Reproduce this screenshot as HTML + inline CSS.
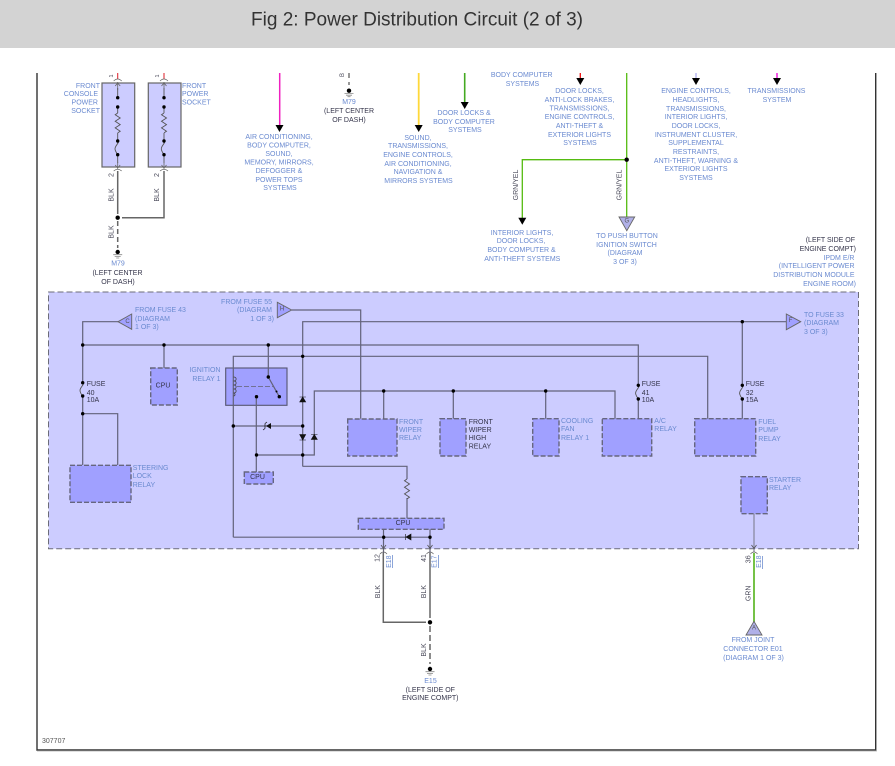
<!DOCTYPE html>
<html>
<head>
<meta charset="utf-8">
<style>
html,body{margin:0;padding:0;background:#fff;width:895px;height:766px;overflow:hidden}
svg{display:block}
text{font-family:"Liberation Sans",sans-serif;font-size:7px;dominant-baseline:central;fill:#6a8ad0}
.c{text-anchor:middle}
.r{text-anchor:end}
.d{fill:#34344a}
.v{fill:#4a4a5a;text-anchor:middle}
.w{fill:none;stroke:#62627a;stroke-width:1.2}
.g{fill:none;stroke:#666;stroke-width:1.5}
.t{fill:none;stroke:#555;stroke-width:.9}
.b{fill:#a0a0ff;stroke:#66667f;stroke-width:1.4;stroke-dasharray:5 2}
</style>
</head>
<body>
<svg width="895" height="766" viewBox="0 0 895 766" xmlns="http://www.w3.org/2000/svg">
<defs>
<path id="res" d="M0,0l-2.5,1.7 5,3.3 -5,3.3 5,3.3 -5,3.3 5,3.3 -2.5,1.7" fill="none" stroke="#555" stroke-width=".9"/>
<path id="fus" d="M0,0C2.2,2.5 -4,5 -2.5,9C-2,11 -.7,12.5 0,13.5" fill="none" stroke="#555" stroke-width=".9"/>
<g id="gnd"><circle r="2.2" fill="#000"/><path d="M-4.5,2.7H4.5M-3,4.5H3M-1.5,6H1.5" stroke="#888" stroke-width=".8"/></g>
<path id="arr" d="M-4,0H4L0,7Z" fill="#000"/>
<path id="conn" d="M-4,-1Q0,-4.5 4,-1M-2.5,-7 0,-4 2.5,-7M0,-10V-3" fill="none" stroke="#666" stroke-width=".8"/>
<path id="connt" d="M-4,1Q0,-3 4,1M-2.5,6 0,3 2.5,6M0,2V10" fill="none" stroke="#666" stroke-width=".8"/>
</defs>

<rect x="0" y="0" width="895" height="48" fill="#d3d3d3"/>
<text x="417" y="20" class="c" style="font-size:19px;fill:#333" textLength="332" lengthAdjust="spacingAndGlyphs">Fig 2: Power Distribution Circuit (2 of 3)</text>

<path d="M37,73V750H875.7V73" fill="none" stroke="#333" stroke-width="1.4"/>
<path d="M37,751H876.5V73" fill="none" stroke="#aaa" stroke-width=".8"/>
<text x="42" y="741.5" style="fill:#555;font-size:7px">307707</text>

<!-- panel -->
<rect x="48.5" y="292" width="810" height="256.7" fill="#ccccff" stroke="#6c6c78" stroke-width="1" stroke-dasharray="6 3"/>

<!-- sockets -->
<rect x="102" y="83" width="32.7" height="84" fill="#ccccff" stroke="#666" stroke-width="1.2"/>
<rect x="148.3" y="83" width="32.7" height="84" fill="#ccccff" stroke="#666" stroke-width="1.2"/>
<path d="M117.7,73V79M164,73V79" stroke="#e0303a" stroke-width="1.1"/>
<g id="s1">
<use href="#connt" x="117.7" y="80"/>
<path d="M117.7,88V97.7M117.7,107V113M117.7,133V141M117.7,155V163" class="t"/>
<use href="#res" x="117.7" y="113"/>
<use href="#fus" x="117.7" y="141"/>
<circle cx="117.7" cy="97.7" r="1.7"/><circle cx="117.7" cy="107" r="1.7"/><circle cx="117.7" cy="141" r="1.7"/><circle cx="117.7" cy="154.7" r="1.7"/>
<use href="#conn" x="117.7" y="172"/>
</g>
<g>
<use href="#connt" x="164" y="80"/>
<path d="M164,88V97.7M164,107V113M164,133V141M164,155V163" class="t"/>
<use href="#res" x="164" y="113"/>
<use href="#fus" x="164" y="141"/>
<circle cx="164" cy="97.7" r="1.7"/><circle cx="164" cy="107" r="1.7"/><circle cx="164" cy="141" r="1.7"/><circle cx="164" cy="154.7" r="1.7"/>
<use href="#conn" x="164" y="172"/>
</g>
<path d="M117.7,171V214M164,171V217.7H122" class="g"/>
<circle cx="117.7" cy="217.7" r="2.2"/>
<path d="M117.7,221V248" stroke="#666" stroke-width="1.5" stroke-dasharray="5 3"/>
<use href="#gnd" x="117.7" y="252"/>
<text transform="translate(112,76) rotate(-90)" class="v" style="font-size:5.5px">1</text>
<text transform="translate(158,76) rotate(-90)" class="v" style="font-size:5.5px">1</text>
<text transform="translate(112,175) rotate(-90)" class="v">2</text>
<text transform="translate(157.5,175) rotate(-90)" class="v">2</text>
<text transform="translate(112,195) rotate(-90)" class="v">BLK</text>
<text transform="translate(157.5,195) rotate(-90)" class="v">BLK</text>
<text transform="translate(112,232) rotate(-90)" class="v">BLK</text>
<text class="r" x="100" y="86.5">FRONT</text><text class="r" x="98" y="94.5">CONSOLE</text><text class="r" x="98" y="103">POWER</text><text class="r" x="100" y="111.5">SOCKET</text>
<text x="182" y="86.5">FRONT</text><text x="182" y="94.5">POWER</text><text x="182" y="103">SOCKET</text>
<text class="c" x="118" y="264">M79</text>
<text class="c d" x="117.5" y="273.5">(LEFT CENTER</text><text class="c d" x="118" y="282.5">OF DASH)</text>

<!-- top feeds -->
<path d="M279.7,73V125" stroke="#f020c0" stroke-width="1.5"/><use href="#arr" x="279.5" y="125"/>
<text class="c" x="279" y="137.3">AIR CONDITIONING,</text><text class="c" x="279" y="146">BODY COMPUTER,</text><text class="c" x="279" y="154.5">SOUND,</text><text class="c" x="279" y="163">MEMORY, MIRRORS,</text><text class="c" x="279" y="171.5">DEFOGGER &amp;</text><text class="c" x="279" y="180.5">POWER TOPS</text><text class="c" x="280" y="188.5">SYSTEMS</text>

<path d="M349,73V78M349,82V85" stroke="#555" stroke-width="1.2"/>
<text transform="translate(343,75) rotate(-90)" class="v" style="font-size:6px">B</text>
<use href="#gnd" x="349" y="90.7"/>
<text class="c" x="349" y="102.5">M79</text>
<text class="c d" x="349" y="111.5">(LEFT CENTER</text><text class="c d" x="349" y="120.5">OF DASH)</text>

<path d="M418.7,73V125" stroke="#ffd83a" stroke-width="1.8"/><use href="#arr" x="418.7" y="125"/>
<text class="c" x="418" y="138.5">SOUND,</text><text class="c" x="418" y="146.5">TRANSMISSIONS,</text><text class="c" x="418" y="155.5">ENGINE CONTROLS,</text><text class="c" x="418" y="164.5">AIR CONDITIONING,</text><text class="c" x="418" y="172.5">NAVIGATION &amp;</text><text class="c" x="418.5" y="181.5">MIRRORS SYSTEMS</text>

<path d="M464.7,73V102" stroke="#44aa22" stroke-width="1.6"/><use href="#arr" x="464.7" y="102"/>
<text class="c" x="464" y="113.3">DOOR LOCKS &amp;</text><text class="c" x="464" y="122.3">BODY COMPUTER</text><text class="c" x="465" y="130.3">SYSTEMS</text>

<text class="c" x="521.7" y="75.3">BODY COMPUTER</text><text class="c" x="522.5" y="84.3">SYSTEMS</text>

<path d="M580.3,73V78" stroke="#ee1111" stroke-width="1.3"/><use href="#arr" x="580.3" y="78"/>
<text class="c" x="579.5" y="91.3">DOOR LOCKS,</text><text class="c" x="579.5" y="100.3">ANTI-LOCK BRAKES,</text><text class="c" x="579.5" y="109">TRANSMISSIONS,</text><text class="c" x="579.5" y="117.3">ENGINE CONTROLS,</text><text class="c" x="579.5" y="126.3">ANTI-THEFT &amp;</text><text class="c" x="579.5" y="135.3">EXTERIOR LIGHTS</text><text class="c" x="580" y="143.3">SYSTEMS</text>

<path d="M626.7,73V217M626.7,159.7H522.3V218" fill="none" stroke="#55bb11" stroke-width="1.3"/>
<circle cx="626.7" cy="159.7" r="2.2"/>
<use href="#arr" x="522.3" y="217.7"/>
<path d="M619,217H634.7L626.8,230.7Z" fill="#b0b0e8" stroke="#666" stroke-width=".9"/>
<text class="c" x="626.8" y="221.5" style="fill:#555;font-size:6px">G</text>
<text transform="translate(516.7,185) rotate(-90)" class="v">GRN/YEL</text>
<text transform="translate(620,185) rotate(-90)" class="v">GRN/YEL</text>
<text class="c" x="522" y="233.3">INTERIOR LIGHTS,</text><text class="c" x="521" y="241.3">DOOR LOCKS,</text><text class="c" x="521.5" y="250.3">BODY COMPUTER &amp;</text><text class="c" x="522.3" y="259.3">ANTI-THEFT SYSTEMS</text>
<text class="c" x="627" y="236.3">TO PUSH BUTTON</text><text class="c" x="626.5" y="245.3">IGNITION SWITCH</text><text class="c" x="625" y="253.7">(DIAGRAM</text><text class="c" x="625" y="262.7">3 OF 3)</text>

<path d="M696,73V78" stroke="#b8b8f0" stroke-width="1.5"/><use href="#arr" x="696" y="78"/>
<text class="c" x="696" y="91.3">ENGINE CONTROLS,</text><text class="c" x="696" y="100.3">HEADLIGHTS,</text><text class="c" x="696" y="109.3">TRANSMISSIONS,</text><text class="c" x="696" y="117.3">INTERIOR LIGHTS,</text><text class="c" x="696" y="126.3">DOOR LOCKS,</text><text class="c" x="696" y="135.3">INSTRUMENT CLUSTER,</text><text class="c" x="696" y="143.3">SUPPLEMENTAL</text><text class="c" x="696" y="152.3">RESTRAINTS,</text><text class="c" x="696" y="161.3">ANTI-THEFT, WARNING &amp;</text><text class="c" x="696" y="169.3">EXTERIOR LIGHTS</text><text class="c" x="696" y="178.3">SYSTEMS</text>

<path d="M777,73V78" stroke="#ee22dd" stroke-width="1.5"/><use href="#arr" x="777" y="78"/>
<text class="c" x="776.5" y="91.3">TRANSMISSIONS</text><text class="c" x="777" y="100.3">SYSTEM</text>

<text class="r d" x="855" y="240.3">(LEFT SIDE OF</text><text class="r d" x="856" y="249.3">ENGINE COMPT)</text>
<text class="r" x="854.5" y="258.3">IPDM E/R</text><text class="r" x="854.5" y="266.7">(INTELLIGENT POWER</text><text class="r" x="854.5" y="275.7">DISTRIBUTION MODULE</text><text class="r" x="856" y="284.7">ENGINE ROOM)</text>

<!-- relays / boxes -->
<rect x="70" y="465.3" width="61" height="37" class="b"/>
<rect x="150.7" y="368" width="26.6" height="37" class="b"/>
<rect x="244.3" y="472" width="29" height="12" class="b"/>
<rect x="225.7" y="368" width="61.3" height="37.3" fill="#a0a0ff" stroke="#555570" stroke-width="1.1"/>
<rect x="347.7" y="419" width="49.3" height="37" class="b"/>
<rect x="440" y="418.7" width="26" height="37.3" class="b"/>
<rect x="532.7" y="418.7" width="26.3" height="37.3" class="b"/>
<rect x="602.3" y="418.7" width="49.4" height="37.3" class="b"/>
<rect x="694.7" y="418.7" width="61" height="37.3" class="b"/>
<rect x="741" y="476.7" width="26.3" height="37" class="b"/>
<rect x="358.3" y="518.3" width="85.7" height="11" class="b"/>

<!-- wiring in panel -->
<path class="w" d="M118,321.7H82.7V382.7M82.7,396V465M82.7,413.7H117.7V465"/>
<path class="w" d="M82.7,345H638.3V385.3M638.3,399V418.7"/>
<path class="w" d="M164,345V368"/>
<path class="w" d="M268.3,345V377M268.3,377L279.3,396.7"/>
<path class="w" d="M291.7,310H360.7V418.7"/>
<path class="w" d="M302.7,466.5V321.7H786.3"/>
<path class="w" d="M742.3,321.7V385.3M742.3,399V418.7"/>
<path class="w" d="M233.3,537.3V356.3H707.7V418.7"/>
<path class="w" d="M233.3,426H302.7"/>
<path class="w" d="M256.3,396.7V472M256.3,455H314.3V391H615V418.7"/>
<path class="w" d="M383.7,391V419M453.3,391V418.7M545.7,391V418.7"/>
<path class="w" d="M302.7,466.3H407V479M407,498V518.3"/>
<path class="w" d="M233.3,537.2H430"/>
<path class="w" d="M383.5,529.3V553M430,529.3V553"/>
<path d="M754,513.7V552" fill="none" stroke="#8a8aa0" stroke-width="1.3"/>
<path d="M751.5,545 754,548.5 756.5,545M381,545 383.5,548.5 386,545M427.5,545 430,548.5 432.5,545" fill="none" stroke="#555" stroke-width=".8"/>
<use href="#res" x="407" y="479"/>

<!-- coil & switch -->
<path d="M233.5,377c3.5,0 3.5,4 0,4c3.5,0 3.5,4 0,4c3.5,0 3.5,4 0,4c3.5,0 3.5,4 0,4c2,0 2,3 0,3" fill="none" stroke="#444" stroke-width=".8"/>
<path d="M237,386.3H273" stroke="#555" stroke-width=".7" stroke-dasharray="5 2"/>

<!-- fuses -->
<use href="#fus" x="82.7" y="382.7"/><use href="#fus" x="638.3" y="385.3"/><use href="#fus" x="742.3" y="385.3"/>

<!-- diodes -->
<path d="M299.7,402H305.7L302.7,397ZM299.5,397H305.9" fill="#111" stroke="#111" stroke-width=".6"/>
<path d="M299.7,434.5H305.7L302.7,440ZM299.5,440H305.9" fill="#111" stroke="#111" stroke-width=".6"/>
<path d="M311.3,439.5H317.3L314.3,434.5ZM311.1,434.5H317.5" fill="#111" stroke="#111" stroke-width=".6"/>
<path d="M271,423V429L266,426Z" fill="#111"/><path d="M265,423.5V428.5M265,423.5L267,422M265,428.5L263,430" stroke="#111" stroke-width=".7" fill="none"/>
<path d="M411,534V540L406,537ZM405.7,534V540" fill="#111" stroke="#111" stroke-width=".6"/>

<!-- dots -->
<g fill="#000">
<circle cx="82.7" cy="345" r="1.7"/><circle cx="164" cy="345" r="1.7"/><circle cx="268.3" cy="345" r="1.7"/>
<circle cx="82.7" cy="382.7" r="1.7"/><circle cx="82.7" cy="396" r="1.7"/><circle cx="82.7" cy="413.7" r="1.7"/>
<circle cx="268.3" cy="377" r="1.7"/><circle cx="279.3" cy="396.7" r="1.7"/><circle cx="276.5" cy="391.5" r="1"/><circle cx="256.5" cy="396.7" r="1.7"/>
<circle cx="302.7" cy="356.3" r="1.7"/><circle cx="233.3" cy="426" r="1.7"/><circle cx="302.7" cy="426" r="1.7"/>
<circle cx="256.5" cy="455" r="1.7"/><circle cx="302.7" cy="455" r="1.7"/>
<circle cx="383.7" cy="391" r="1.7"/><circle cx="453.3" cy="391" r="1.7"/><circle cx="545.7" cy="391" r="1.7"/>
<circle cx="638.3" cy="385.3" r="1.7"/><circle cx="638.3" cy="399" r="1.7"/>
<circle cx="742.3" cy="321.7" r="1.7"/><circle cx="742.3" cy="385.3" r="1.7"/><circle cx="742.3" cy="399" r="1.7"/>
<circle cx="383.7" cy="537.2" r="1.7"/><circle cx="430" cy="537.2" r="1.7"/>
</g>

<!-- triangles -->
<path d="M118,321.7L131.7,314V329.3Z" fill="#a0a0ff" stroke="#666" stroke-width=".9"/>
<text class="c" x="127.5" y="322" style="fill:#555;font-size:6px">C</text>
<path d="M291.7,310L277.3,302.3V317.7Z" fill="#a0a0ff" stroke="#666" stroke-width=".9"/>
<text class="c" x="282" y="309.5" style="fill:#555;font-size:6px">H</text>
<path d="M800.7,321.7L786.3,314V329.7Z" fill="#a0a0ff" stroke="#666" stroke-width=".9"/>
<text class="c" x="790.5" y="321" style="fill:#555;font-size:6px">F</text>

<!-- panel labels -->
<text x="135" y="310.3">FROM FUSE 43</text><text x="135" y="319.3">(DIAGRAM</text><text x="135" y="327.3">1 OF 3)</text>
<text class="r" x="272" y="302.3">FROM FUSE 55</text><text class="r" x="272" y="310.7">(DIAGRAM</text><text class="r" x="274" y="319.3">1 OF 3)</text>
<text x="804" y="315.3">TO FUSE 33</text><text x="804" y="323.3">(DIAGRAM</text><text x="804" y="332.3">3 OF 3)</text>
<text class="r" x="220.5" y="370.3">IGNITION</text><text class="r" x="220.5" y="379.3">RELAY 1</text>
<text class="c d" x="163" y="386">CPU</text>
<text class="c d" x="257.5" y="477.5">CPU</text>
<text class="c d" x="403" y="523.5">CPU</text>
<text class="d" x="86.7" y="384.3">FUSE</text><text class="d" x="86.7" y="393.3">40</text><text class="d" x="86.7" y="400.3">10A</text>
<text class="d" x="641.7" y="384.3">FUSE</text><text class="d" x="641.7" y="393.3">41</text><text class="d" x="641.7" y="400.3">10A</text>
<text class="d" x="745.7" y="384.3">FUSE</text><text class="d" x="745.7" y="393.3">32</text><text class="d" x="745.7" y="400.3">15A</text>
<text x="132.7" y="468.3">STEERING</text><text x="132.7" y="476.3">LOCK</text><text x="132.7" y="485.3">RELAY</text>
<text x="399" y="422.3">FRONT</text><text x="399" y="430.3">WIPER</text><text x="399" y="438.3">RELAY</text>
<text class="d" x="468.7" y="422.3">FRONT</text><text class="d" x="468.7" y="430.3">WIPER</text><text class="d" x="468.7" y="438.3">HIGH</text><text class="d" x="468.7" y="447">RELAY</text>
<text x="561" y="421.3">COOLING</text><text x="561" y="429.3">FAN</text><text x="561" y="438.3">RELAY 1</text>
<text x="654.3" y="421.3">A/C</text><text x="654.3" y="429.3">RELAY</text>
<text x="758.3" y="422.3">FUEL</text><text x="758.3" y="430.3">PUMP</text><text x="758.3" y="439.3">RELAY</text>
<text x="769" y="480.3">STARTER</text><text x="769" y="488.3">RELAY</text>

<!-- bottom -->
<path d="M380,554Q383.5,550 387,554M426.5,554Q430,550 433.5,554M750.5,554Q754,550 757.5,554" fill="none" stroke="#666" stroke-width=".8"/>
<path d="M383.3,553V622.3H426M430,553V618" class="g"/>
<circle cx="430" cy="622.3" r="2.2"/>
<path d="M430,626V664" stroke="#666" stroke-width="1.5" stroke-dasharray="6 3"/>
<use href="#gnd" x="430" y="669"/>
<text transform="translate(378,558) rotate(-90)" class="v">12</text>
<text transform="translate(389.3,561.7) rotate(-90)" class="c">E18</text>
<path d="M392.5,555V568" stroke="#6f8fd0" stroke-width=".8"/>
<text transform="translate(378.3,591.7) rotate(-90)" class="v">BLK</text>
<text transform="translate(424.7,558) rotate(-90)" class="v">41</text>
<text transform="translate(435,561.7) rotate(-90)" class="c">E17</text>
<path d="M438.5,555V568" stroke="#6f8fd0" stroke-width=".8"/>
<text transform="translate(424.7,591.7) rotate(-90)" class="v">BLK</text>
<text transform="translate(424.7,650) rotate(-90)" class="v">BLK</text>
<text class="c" x="430.5" y="681.7">E15</text>
<text class="c d" x="430.3" y="690.3">(LEFT SIDE OF</text><text class="c d" x="430.3" y="698.7">ENGINE COMPT)</text>

<path d="M754,553V622" stroke="#66bb33" stroke-width="1.8"/>
<path d="M754,621.3L762,635H746Z" fill="#b0b0e8" stroke="#666" stroke-width=".9"/>
<text class="c" x="754" y="628.5" style="fill:#555;font-size:6px">A</text>
<text transform="translate(749,559.3) rotate(-90)" class="v">36</text>
<text transform="translate(759.3,561.7) rotate(-90)" class="c">E18</text>
<path d="M762.5,556V569" stroke="#6f8fd0" stroke-width=".8"/>
<text transform="translate(749,593.3) rotate(-90)" class="v">GRN</text>
<text class="c" x="753" y="640.3">FROM JOINT</text><text class="c" x="753" y="649.3">CONNECTOR E01</text><text class="c" x="753.5" y="658.3">(DIAGRAM 1 OF 3)</text>
</svg>
</body>
</html>
